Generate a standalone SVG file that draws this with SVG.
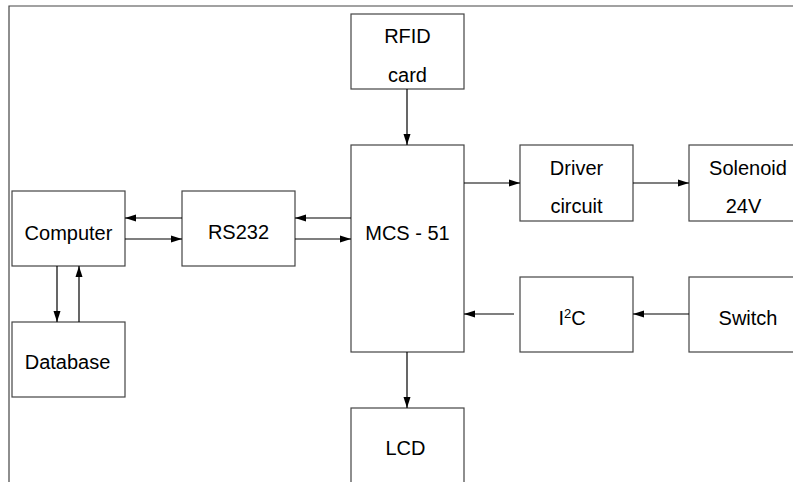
<svg xmlns="http://www.w3.org/2000/svg" width="793" height="482" viewBox="0 0 793 482">
<defs>
<marker id="ah" markerWidth="11" markerHeight="8" refX="11" refY="4" orient="auto" markerUnits="userSpaceOnUse">
<path d="M0,0.5 L11,4 L0,7.5 Z" fill="#000"/>
</marker>
<style>
.box{fill:#fff;stroke:#444;stroke-width:1.2}
.frame{fill:none;stroke:#444;stroke-width:1.2}
.c{fill:none;stroke:#000;stroke-width:1.2;marker-end:url(#ah)}
text{font-family:"Liberation Sans",Arial,sans-serif;font-size:20px;fill:#000;text-anchor:middle}
</style>
</defs>
<rect width="793" height="482" fill="#fff"/>
<path class="frame" d="M9,482 V6 H793"/>
<g id="rfid"><rect class="box" x="351" y="14" width="113" height="75"/><text x="407.5" y="43">RFID</text><text x="407.5" y="82">card</text></g>
<g id="mcs51"><rect class="box" x="351" y="145" width="113" height="207"/><text x="407.5" y="240">MCS - 51</text></g>
<g id="driver"><rect class="box" x="520" y="145" width="113" height="76"/><text x="576.5" y="175">Driver</text><text x="576.5" y="213">circuit</text></g>
<g id="solenoid"><rect class="box" x="689" y="145" width="113" height="76"/><text x="748" y="175">Solenoid</text><text x="743.5" y="213">24V</text></g>
<g id="i2c"><rect class="box" x="520" y="277" width="113" height="75"/><text x="572" y="325">I<tspan font-size="13" dy="-7">2</tspan><tspan dy="7">C</tspan></text></g>
<g id="switch"><rect class="box" x="689" y="277" width="113" height="75"/><text x="748" y="325">Switch</text></g>
<g id="computer"><rect class="box" x="12" y="191" width="113" height="75"/><text x="68.5" y="240">Computer</text></g>
<g id="rs232"><rect class="box" x="182" y="191" width="113" height="75"/><text x="238.5" y="239">RS232</text></g>
<g id="database"><rect class="box" x="12" y="322" width="113" height="75"/><text x="67.5" y="369">Database</text></g>
<g id="lcd"><rect class="box" x="351" y="408" width="113" height="90"/><text x="405.5" y="455">LCD</text></g>
<g id="connectors">
<path class="c" d="M407,89 V145"/>
<path class="c" d="M182,218 H125"/>
<path class="c" d="M125,239 H182"/>
<path class="c" d="M351,218 H295"/>
<path class="c" d="M295,239 H351"/>
<path class="c" d="M57,266 V322"/>
<path class="c" d="M79,322 V266"/>
<path class="c" d="M464,183 H520"/>
<path class="c" d="M633,183 H689"/>
<path class="c" d="M514,314 H464"/>
<path class="c" d="M689,314 H633"/>
<path class="c" d="M407,352 V408"/>
</g>
</svg>
